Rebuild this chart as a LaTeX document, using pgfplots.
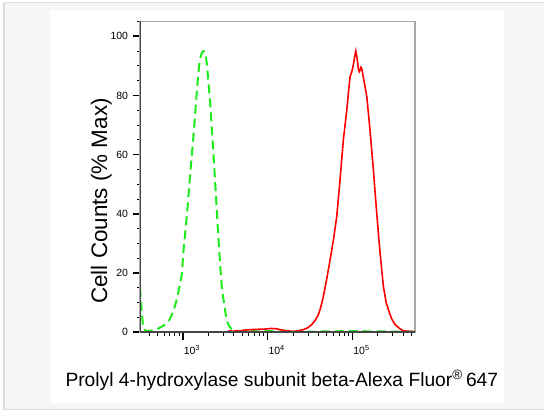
\documentclass[border=0pt]{standalone}
\usepackage{fontspec}
\setmainfont{Liberation Sans}
\usepackage{pgfplots}
\pgfplotsset{compat=1.18}
\definecolor{bggray}{RGB}{246,246,246}
\definecolor{framegray}{RGB}{220,220,220}
\definecolor{boxgray}{RGB}{170,170,170}
\definecolor{axdark}{RGB}{70,70,70}
\definecolor{isogreen}{RGB}{30,235,30}
\definecolor{posred}{RGB}{255,0,0}
\begin{document}
\begin{tikzpicture}[x=1bp,y=1bp]
\useasboundingbox (0,0) rectangle (544,412);
\fill[white] (0,0) rectangle (544,412);
\draw[fill=bggray, draw=framegray, line width=1.5bp] (4,2.5) rectangle (548,409.5);
\fill[white] (50,9) rectangle (504,402);
\begin{axis}[
  at={(140bp,80bp)}, anchor=south west,
  width=275bp, height=310.5bp, scale only axis,
  xmode=log, xmin=313, xmax=548000, ymin=0, ymax=105,
  axis line style={draw=boxgray, line width=1.5bp},
  tick align=outside, xtick pos=bottom, ytick pos=left,
  xtick={1000,10000,100000},
  xticklabels={10\textsuperscript{3},10\textsuperscript{4},10\textsuperscript{5}},
  minor xtick={400,500,600,700,800,900,2000,3000,4000,5000,6000,7000,8000,9000,20000,30000,40000,50000,60000,70000,80000,90000,200000,300000,400000,500000},
  ytick={0,20,40,60,80,100},
  minor ytick={5,10,15,25,30,35,45,50,55,65,70,75,85,90,95,105},
  major tick length=7.5bp, minor tick length=3.5bp,
  every major tick/.append style={line width=1.7bp, black},
  every minor tick/.append style={line width=0.8bp, black},
  /pgf/number format/assume math mode=true,
  yticklabel style={font=\fontsize{10.5}{11}\selectfont, black, xshift=-1bp},
  xticklabel style={font=\fontsize{10.5}{11}\selectfont, black, anchor=north west, xshift=-2.5bp, yshift=-2bp},
  clip=true,
]
\addplot[isogreen, line width=2bp, dash pattern=on 9bp off 5bp, smooth, tension=0.35] coordinates {
(313,15) (322,10) (335,4) (343,1.5) (360,0.5) (411,0.4) (480,0.8) (540,1.5) (620,2.5) (676,3.5) (774,7) (849,11) (887,13.5) (973,19.5) (1016,27) (1115,39) (1219,53) (1334,66) (1462,81) (1570,91) (1675,94.3) (1760,95) (1832,94.3) (1918,91) (2099,77.5) (2296,60.5) (2450,47) (2630,32) (2884,15.4) (3304,4) (3700,1.2) (3953,0.8) (4745,0.3) (6000,0.4) (8000,0.2) (10000,0.3) (20000,0.1) (50000,0.2) (100000,0.3) (200000,0.2) (548000,0.1)
};
\addplot[posred, line width=1.6bp] coordinates {
(313,0) (3300,0) (3600,0.4) (3900,0.2) (4140,0.4) (4600,0.3) (5200,0.6) (6220,0.8) (7500,0.9) (9350,1.0) (11000,1.2) (12830,1.1) (14500,0.7) (16070,0.5) (19990,0.2) (22900,0.4) (26400,0.8) (30000,1.5) (33200,2.5) (36500,4) (39700,5.8) (42500,8.5) (45500,12) (48800,16.5) (52100,21) (55800,26) (59700,31) (65400,39) (71600,51.5) (78300,65) (85900,75) (90000,81) (94000,86.4) (98400,88) (101500,89.5) (104800,92) (109700,95) (113000,93) (117700,89) (120500,88) (123300,88.5) (126000,89.5) (129100,89) (134900,86) (141000,83) (147900,79.6) (154500,74) (161800,68) (169000,61.5) (177000,54.9) (185000,47.5) (194100,40) (203000,33) (212200,26.8) (222000,21) (232300,15.4) (250000,10) (266000,7.5) (290000,4.5) (319000,2.5) (360000,1.2) (399000,0.4) (479000,0.2) (548000,0.1)
};
\draw[axdark, line width=1.3bp] (rel axis cs:0,1) -- (rel axis cs:0,0) -- (rel axis cs:1,0);
\end{axis}
\node[rotate=90, anchor=base, font=\fontsize{22.5}{24}\selectfont] at (107,211) {Cell Counts (\% Max)};
\node[anchor=base west, font=\fontsize{19.3}{20}\selectfont] at (62,25.5) {Prolyl 4-hydroxylase subunit beta-Alexa Fluor\textsuperscript{®}\,647};
\end{tikzpicture}
\end{document}
